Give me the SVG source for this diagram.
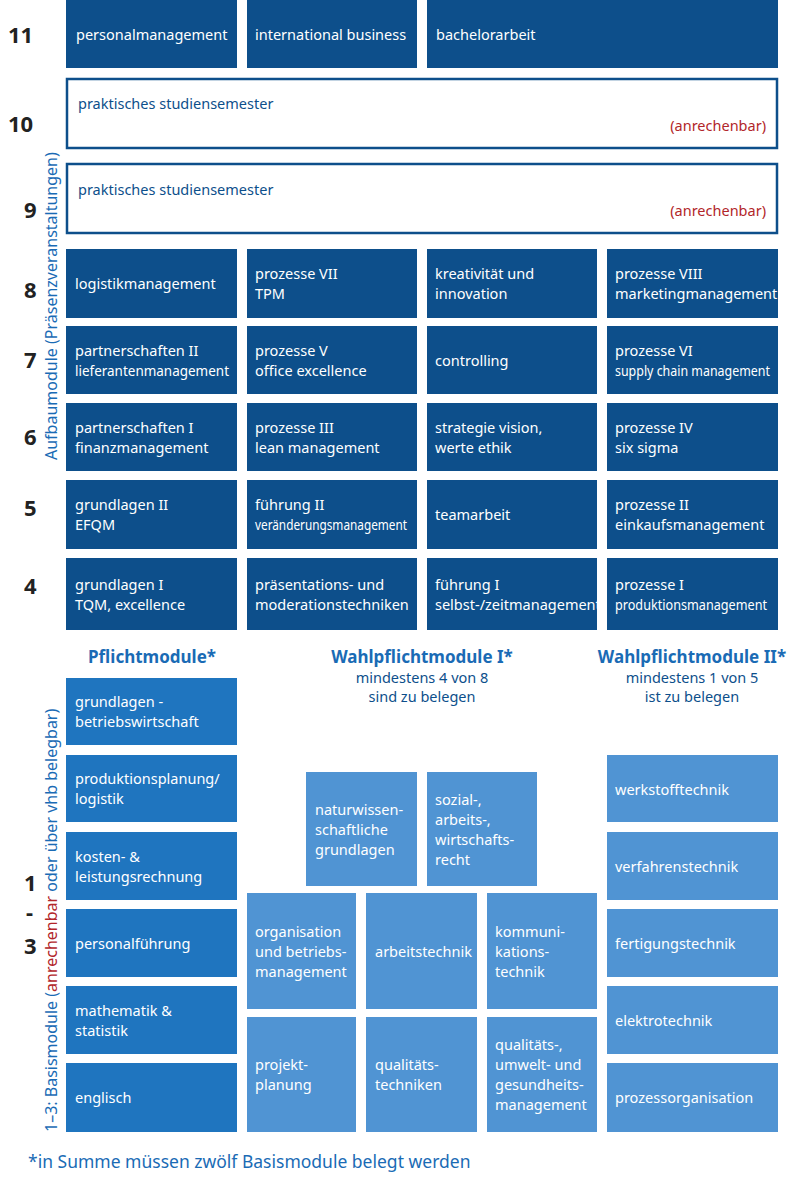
<svg xmlns="http://www.w3.org/2000/svg" width="800" height="1180" viewBox="0 0 800 1180">
<style>
text{font-family:"Noto Sans","Liberation Sans",sans-serif;font-size:14.5px}
.d{fill:#0d4f8b}.p{fill:#1f75bf}.l{fill:#5094d3}
.o{fill:#fff;stroke:#0d4f8b;stroke-width:2.5}
.w{fill:#fff}.b{fill:#0d4f8b}.r{fill:#b2262a}
.n{font-size:22px;font-weight:bold;fill:#222}
.h{font-weight:bold;font-size:17px;fill:#1a6bb5;text-anchor:middle}
.s{fill:#0d4f8b;text-anchor:middle}
.v{font-size:16px;fill:#1a6bb5}
</style>
<g id="numbers">
<text class="n" x="8" y="43">11</text><text class="n" x="8" y="132">10</text><text class="n" x="24" y="218">9</text>
<text class="n" x="24" y="298">8</text><text class="n" x="24" y="368">7</text><text class="n" x="24" y="445">6</text>
<text class="n" x="24" y="516">5</text><text class="n" x="24" y="594">4</text>
<text class="n" x="24" y="891">1</text><text class="n" x="26" y="920">-</text><text class="n" x="24" y="954">3</text>
</g>
<text class="v" transform="translate(57,460) rotate(-90)">Aufbaumodule (Präsenzveranstaltungen)</text>
<text class="v" transform="translate(57,1132) rotate(-90)">1–3: Basismodule (<tspan fill="#b2262a">anrechenbar</tspan> oder über vhb belegbar)</text>
<g id="r11">
<rect class="d" x="66" y="0" width="171" height="68"/><text class="w" x="76" y="40">personalmanagement</text>
<rect class="d" x="247" y="0" width="170" height="68"/><text class="w" x="255" y="40">international business</text>
<rect class="d" x="427" y="0" width="351" height="68"/><text class="w" x="436" y="40">bachelorarbeit</text>
</g>
<g id="r10"><rect class="o" x="67" y="79" width="710" height="69"/><text class="b" x="78" y="109">praktisches studiensemester</text><text class="r" x="766" y="131" text-anchor="end">(anrechenbar)</text></g>
<g id="r9"><rect class="o" x="67" y="164" width="710" height="69"/><text class="b" x="78" y="195">praktisches studiensemester</text><text class="r" x="766" y="216" text-anchor="end">(anrechenbar)</text></g>
<g id="aufbau">
<rect class="d" x="66" y="249" width="171" height="69"/><rect class="d" x="247" y="249" width="170" height="69"/><rect class="d" x="427" y="249" width="170" height="69"/><rect class="d" x="607" y="249" width="171" height="69"/>
<text class="w" x="75" y="289">logistikmanagement</text>
<text class="w" x="255" y="279">prozesse VII</text><text class="w" x="255" y="299">TPM</text>
<text class="w" x="435" y="279">kreativität und</text><text class="w" x="435" y="299">innovation</text>
<text class="w" x="615" y="279">prozesse VIII</text><text class="w" x="615" y="299">marketingmanagement</text>
<rect class="d" x="66" y="326" width="171" height="68"/><rect class="d" x="247" y="326" width="170" height="68"/><rect class="d" x="427" y="326" width="170" height="68"/><rect class="d" x="607" y="326" width="171" height="68"/>
<text class="w" x="75" y="356">partnerschaften II</text><text class="w" x="75" y="376" textLength="154" lengthAdjust="spacingAndGlyphs">lieferantenmanagement</text>
<text class="w" x="255" y="356">prozesse V</text><text class="w" x="255" y="376">office excellence</text>
<text class="w" x="435" y="366">controlling</text>
<text class="w" x="615" y="356">prozesse VI</text><text class="w" x="615" y="376" textLength="155" lengthAdjust="spacingAndGlyphs">supply chain management</text>
<rect class="d" x="66" y="403" width="171" height="68"/><rect class="d" x="247" y="403" width="170" height="68"/><rect class="d" x="427" y="403" width="170" height="68"/><rect class="d" x="607" y="403" width="171" height="68"/>
<text class="w" x="75" y="433">partnerschaften I</text><text class="w" x="75" y="453">finanzmanagement</text>
<text class="w" x="255" y="433">prozesse III</text><text class="w" x="255" y="453">lean management</text>
<text class="w" x="435" y="433">strategie vision,</text><text class="w" x="435" y="453">werte ethik</text>
<text class="w" x="615" y="433">prozesse IV</text><text class="w" x="615" y="453">six sigma</text>
<rect class="d" x="66" y="480" width="171" height="69"/><rect class="d" x="247" y="480" width="170" height="69"/><rect class="d" x="427" y="480" width="170" height="69"/><rect class="d" x="607" y="480" width="171" height="69"/>
<text class="w" x="75" y="510">grundlagen II</text><text class="w" x="75" y="530">EFQM</text>
<text class="w" x="255" y="510">führung II</text><text class="w" x="255" y="530" textLength="152" lengthAdjust="spacingAndGlyphs">veränderungsmanagement</text>
<text class="w" x="435" y="520">teamarbeit</text>
<text class="w" x="615" y="510">prozesse II</text><text class="w" x="615" y="530">einkaufsmanagement</text>
<rect class="d" x="66" y="558" width="171" height="72"/><rect class="d" x="247" y="558" width="170" height="72"/><rect class="d" x="427" y="558" width="170" height="72"/><rect class="d" x="607" y="558" width="171" height="72"/>
<text class="w" x="75" y="590">grundlagen I</text><text class="w" x="75" y="610">TQM, excellence</text>
<text class="w" x="255" y="590">präsentations- und</text><text class="w" x="255" y="610">moderationstechniken</text>
<text class="w" x="435" y="590">führung I</text><text class="w" x="435" y="610">selbst-/zeitmanagement</text>
<text class="w" x="615" y="590">prozesse I</text><text class="w" x="615" y="610" textLength="152" lengthAdjust="spacingAndGlyphs">produktionsmanagement</text>
</g>
<g id="headings">
<text class="h" x="152" y="663">Pflichtmodule*</text>
<text class="h" x="422" y="663">Wahlpflichtmodule I*</text>
<text class="s" x="422" y="683">mindestens 4 von 8</text><text class="s" x="422" y="702">sind zu belegen</text>
<text class="h" x="692" y="663">Wahlpflichtmodule II*</text>
<text class="s" x="692" y="683">mindestens 1 von 5</text><text class="s" x="692" y="702">ist zu belegen</text>
</g>
<g id="pflicht">
<rect class="p" x="66" y="678" width="171" height="67"/><text class="w" x="75" y="707">grundlagen -</text><text class="w" x="75" y="727">betriebswirtschaft</text>
<rect class="p" x="66" y="755" width="171" height="67"/><text class="w" x="75" y="784">produktionsplanung/</text><text class="w" x="75" y="804">logistik</text>
<rect class="p" x="66" y="832" width="171" height="68"/><text class="w" x="75" y="862">kosten- &amp;</text><text class="w" x="75" y="882">leistungsrechnung</text>
<rect class="p" x="66" y="909" width="171" height="68"/><text class="w" x="75" y="949">personalführung</text>
<rect class="p" x="66" y="986" width="171" height="68"/><text class="w" x="75" y="1016">mathematik &amp;</text><text class="w" x="75" y="1036">statistik</text>
<rect class="p" x="66" y="1063" width="171" height="69"/><text class="w" x="75" y="1103">englisch</text>
</g>
<g id="wahl1">
<rect class="l" x="306" y="772" width="111" height="114"/><text class="w" x="315" y="815">naturwissen-</text><text class="w" x="315" y="835">schaftliche</text><text class="w" x="315" y="855">grundlagen</text>
<rect class="l" x="427" y="772" width="110" height="114"/><text class="w" x="435" y="805">sozial-,</text><text class="w" x="435" y="825">arbeits-,</text><text class="w" x="435" y="845">wirtschafts-</text><text class="w" x="435" y="865">recht</text>
<rect class="l" x="247" y="893" width="109" height="116"/><text class="w" x="255" y="937">organisation</text><text class="w" x="255" y="957">und betriebs-</text><text class="w" x="255" y="977">management</text>
<rect class="l" x="366" y="893" width="111" height="116"/><text class="w" x="375" y="957">arbeitstechnik</text>
<rect class="l" x="487" y="893" width="110" height="116"/><text class="w" x="495" y="937">kommuni-</text><text class="w" x="495" y="957">kations-</text><text class="w" x="495" y="977">technik</text>
<rect class="l" x="247" y="1017" width="109" height="115"/><text class="w" x="255" y="1070">projekt-</text><text class="w" x="255" y="1090">planung</text>
<rect class="l" x="366" y="1017" width="111" height="115"/><text class="w" x="375" y="1070">qualitäts-</text><text class="w" x="375" y="1090">techniken</text>
<rect class="l" x="487" y="1017" width="110" height="115"/><text class="w" x="495" y="1050">qualitäts-,</text><text class="w" x="495" y="1070">umwelt- und</text><text class="w" x="495" y="1090">gesundheits-</text><text class="w" x="495" y="1110">management</text>
</g>
<g id="wahl2">
<rect class="l" x="607" y="755" width="171" height="67"/><text class="w" x="615" y="795">werkstofftechnik</text>
<rect class="l" x="607" y="832" width="171" height="68"/><text class="w" x="615" y="872">verfahrenstechnik</text>
<rect class="l" x="607" y="909" width="171" height="68"/><text class="w" x="615" y="949">fertigungstechnik</text>
<rect class="l" x="607" y="986" width="171" height="68"/><text class="w" x="615" y="1026">elektrotechnik</text>
<rect class="l" x="607" y="1063" width="171" height="69"/><text class="w" x="615" y="1103">prozessorganisation</text>
</g>
<text x="28" y="1168" style="font-size:17.5px;fill:#1a6bb5">*in Summe müssen zwölf Basismodule belegt werden</text>
</svg>
